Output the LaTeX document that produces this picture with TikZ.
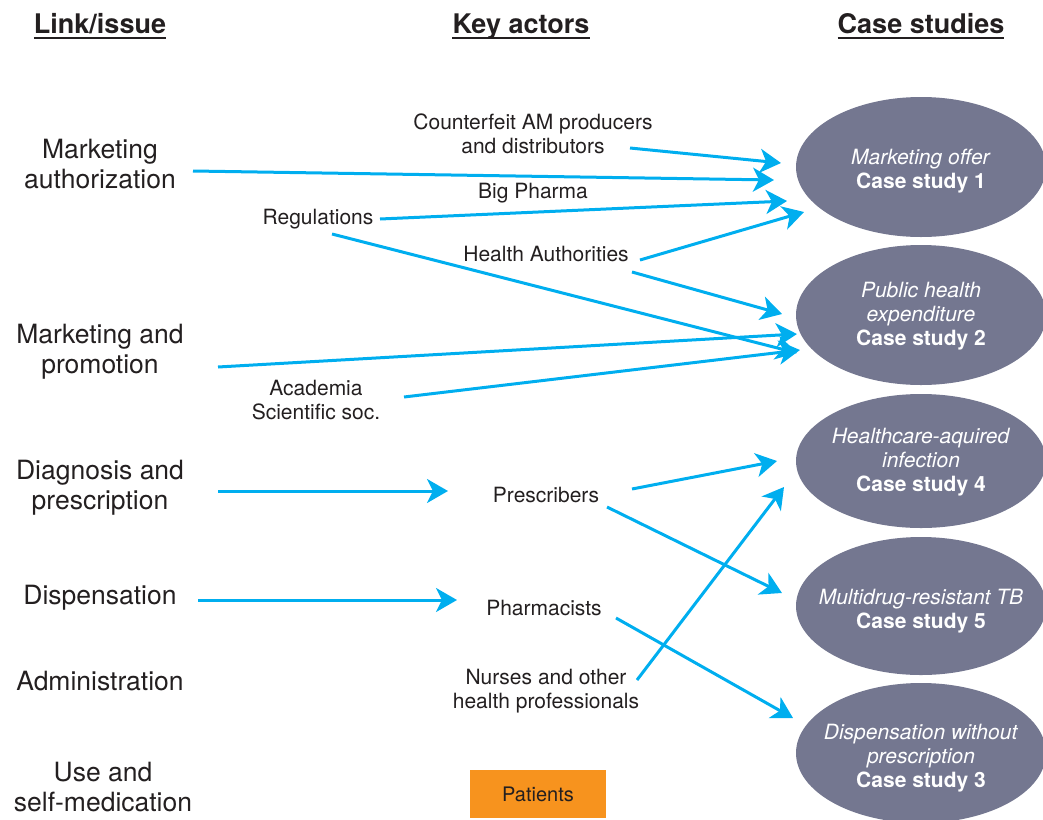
\documentclass[tikz,border=0pt]{standalone}
\usepackage{fontspec}
\setmainfont{TeX Gyre Heros}
\usetikzlibrary{arrows.meta,calc,shapes.geometric}
\definecolor{cy}{HTML}{00AEEF}
\definecolor{el}{HTML}{747790}
\definecolor{org}{HTML}{F7931E}
\definecolor{tx}{HTML}{231F20}
\begin{document}
\begin{tikzpicture}[x=1pt,y=-1pt,
 arr/.style={draw=cy,line width=3pt,-{Stealth[length=21pt,width=24pt,inset=6pt]}},
 lbl/.style={align=center,inner sep=0pt,font=\fontsize{26.5}{30}\selectfont,text=tx},
 act/.style={align=center,inner sep=0pt,font=\fontsize{21}{24}\selectfont,text=tx},
 hdr/.style={inner sep=0pt,anchor=base,font=\fontsize{27}{30}\selectfont\bfseries,text=tx},
 uline/.style={draw=tx,line width=2pt},
 cs/.style={ellipse,fill=el,minimum width=250pt,minimum height=140pt,inner sep=0pt},
 cst/.style={align=center,inner sep=0pt,text=white,font=\fontsize{21}{24}\selectfont}]
\useasboundingbox (0,0) rectangle (1043,819);

% headers
\node[hdr] (h1) at (100,33) {Link/issue};
\node[hdr] (h2) at (521,33) {Key actors};
\node[hdr] (h3) at (921,33) {Case studies};
\foreach \h in {h1,h2,h3}{\draw[uline] ([yshift=-5pt]\h.base west) -- ([yshift=-5pt]\h.base east);}

% left column
\node[lbl] (ma) at (100,164) {Marketing\\authorization};
\node[lbl] (mp) at (100,352) {Marketing and\\promotion};
\node[lbl] (dp) at (100,488) {Diagnosis and\\prescription};
\node[lbl] (ds) at (100,598) {Dispensation};
\node[lbl] (ad) at (100,681) {Administration};
\node[lbl] (us) at (103,787) {Use and\\self-medication};

% actors
\node[act] (cf) at (533,134) {Counterfeit AM producers\\and distributors};
\node[act] (bp) at (533,193) {Big Pharma};
\node[act] (rg) at (318,219) {Regulations};
\node[act] (ha) at (546,254) {Health Authorities};
\node[act] (ac) at (316,400) {Academia\\Scientific soc.};
\node[act] (pr) at (546,495) {Prescribers};
\node[act] (ph) at (544,608) {Pharmacists};
\node[act] (nu) at (546,691) {Nurses and other\\health professionals};
\node[act,fill=org,minimum width=136pt,minimum height=48pt,font=\fontsize{20}{24}\selectfont] (pa) at (538,794) {Patients};

% case studies
\node[cs] (e1) at (921,167) {};
\node[cst] (e1t) at ([yshift=-4pt]e1.center) {\textit{Marketing offer}\\\textbf{Case study 1}};
\node[cs] (e2) at (921,315) {};
\node[cst] (e2t) at ([yshift=-1pt]e2.center) {\textit{Public health}\\\textit{expenditure}\\\textbf{Case study 2}};
\node[cs,minimum height=134pt] (e4) at (921,461) {};
\node[cst] (e4t) at ([yshift=-1pt]e4.center) {\textit{Healthcare-aquired}\\\textit{infection}\\\textbf{Case study 4}};
\node[cs,minimum height=138pt] (e5) at (921,606) {};
\node[cst] (e5t) at ([yshift=-5pt]e5.center) {\textit{Multidrug-resistant TB}\\\textbf{Case study 5}};
\node[cs] (e3) at (921,753) {};
\node[cst] (e3t) at ([yshift=-5pt]e3.center) {\textit{Dispensation without}\\\textit{prescription}\\\textbf{Case study 3}};

% arrow tips near case studies
\coordinate (t1) at (781,163);
\coordinate (t2) at (774,180);
\coordinate (t3) at (787,201);
\coordinate (t4) at (804,212);
\coordinate (t5) at (782,314);
\coordinate (t6) at (797,353);
\coordinate (t7) at (797,334);
\coordinate (t8) at (800,350);
\coordinate (t9) at (448,491);
\coordinate (t10) at (457,600);
\coordinate (t11) at (777,461);
\coordinate (t12) at (782,593);
\coordinate (t13) at (784,487);
\coordinate (t14) at (793,718);

\draw[arr] ($(cf.center)+(97,14)$) -- (t1);
\draw[arr] ($(ma.center)+(93,7)$) -- (t2);
\draw[arr] ($(rg.center)+(62,0)$) -- (t3);
\draw[arr] ($(ha.center)+(94,6)$) -- (t4);
\draw[arr] ($(ha.center)+(86,18)$) -- (t5);
\draw[arr] ($(rg.center)+(14,15)$) -- (t6);
\draw[arr] ($(mp.center)+(118,15)$) -- (t7);
\draw[arr] ($(ac.center)+(88,-3)$) -- (t8);
\draw[arr] ($(dp.center)+(118,3)$) -- (t9);
\draw[arr] ($(ds.center)+(98,2)$) -- (t10);
\draw[arr] ($(pr.center)+(86,-6)$) -- (t11);
\draw[arr] ($(pr.center)+(61,12)$) -- (t12);
\draw[arr] ($(nu.center)+(91,-11)$) -- (t13);
\draw[arr] ($(ph.center)+(72,10)$) -- (t14);
\end{tikzpicture}
\end{document}
